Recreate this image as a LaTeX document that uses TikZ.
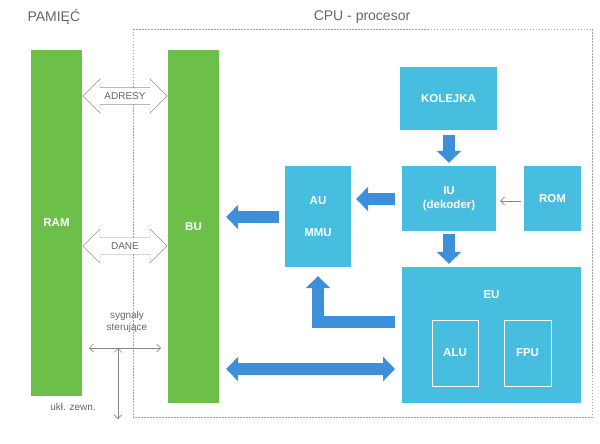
\documentclass[tikz,border=0pt]{standalone}
\usepackage{fontspec}
\setmainfont{Liberation Sans}
\usetikzlibrary{arrows.meta,shapes.arrows}
\definecolor{grn}{HTML}{6CC04A}
\definecolor{box}{HTML}{47BDE0}
\definecolor{arr}{HTML}{3D8FD9}
\definecolor{txt}{HTML}{666666}
\begin{document}
\begin{tikzpicture}[x=1pt,y=-1pt,
  lab/.style={font=\fontsize{11.5}{14}\selectfont\bfseries},
  gbox/.style={fill=grn,inner sep=0,text=white,lab},
  bbox/.style={fill=box,inner sep=0,text=white,lab,align=center},
  ibox/.style={draw=white,line width=0.8pt,inner sep=0,text=white,lab},
  big/.style={draw=arr,line width=12pt,-{Triangle[width=24pt,length=12pt]}},
  bigd/.style={draw=arr,line width=12pt,{Triangle[width=24pt,length=12pt]}-{Triangle[width=24pt,length=12pt]}},
  hollow/.style={draw=txt!70,fill=white,shape=double arrow,double arrow head extend=6pt,minimum height=84pt,minimum width=34pt,inner sep=2pt,font=\fontsize{10}{12}\selectfont,text=txt},
  tip/.style={-{Straight Barb[length=4pt,width=8pt]}},
  thin/.style={draw=txt!80,line width=0.6pt},
  lbl/.style={text=txt,font=\fontsize{10}{12}\selectfont,align=center}]
\useasboundingbox (0,0) rectangle (600,444);
\draw[txt!60,dash pattern=on 1.5pt off 1.5pt,line width=0.8pt] (133,29) rectangle (592,417);
\node[text=txt,font=\fontsize{14}{16}\selectfont,anchor=west] (pam) at (24,17) {PAMIĘĆ};
\node[text=txt,font=\fontsize{14}{16}\selectfont] (cpu) at (362,17) {CPU - procesor};
\node[gbox,minimum width=51pt,minimum height=346pt] (ram) at (56.5,223) {RAM};
\node[gbox,minimum width=51pt,minimum height=353pt] (bu) at (193.5,226.5) {BU};
\node[hollow] (adr) at (125,96) {ADRESY};
\node[hollow] (dane) at (125,246) {DANE};
\node[lbl] (syg) at (127,322) {sygnały\\sterujące};
\coordinate (sl) at (89,348); \coordinate (sr) at (161,348);
\coordinate (vt) at (118,348); \coordinate (vb) at (118,419);
\draw[thin,{Straight Barb[length=4pt,width=8pt]}-{Straight Barb[length=4pt,width=8pt]}] (sl) -- (sr);
\draw[thin,{Straight Barb[length=4pt,width=8pt]}-{Straight Barb[length=4pt,width=8pt]}] (vt) -- (vb);
\node[lbl] (ukl) at (73,407) {ukł. zewn.};
\node[bbox,minimum width=97pt,minimum height=63pt] (kol) at (448.5,98.5) {KOLEJKA};
\node[bbox,minimum width=94pt,minimum height=65pt] (iu) at (449,198.5) {IU\\(dekoder)};
\node[bbox,minimum width=57pt,minimum height=65pt] (rom) at (552.5,198.5) {ROM};
\node[bbox,minimum width=66pt,minimum height=101pt] (au) at (318,216.5) {AU\\[18pt]MMU};
\node[bbox,minimum width=179pt,minimum height=136pt] (eu) at (491.5,335) {};
\node[text=white,lab] (eul) at (491.5,295) {EU};
\node[ibox,minimum width=46pt,minimum height=66pt] (alu) at (455,353) {ALU};
\node[ibox,minimum width=47pt,minimum height=66pt] (fpu) at (527.5,353) {FPU};
\coordinate (k1) at (449,135);
\draw[big] (k1) -- ([yshift=3pt]k1|-iu.north);
\coordinate (i1) at (449,234);
\draw[big] (i1) -- ([yshift=3pt]i1|-eu.north);
\coordinate (i2) at (395,199);
\draw[big] (i2) -- ([xshift=5pt]au.east|-i2);
\coordinate (a2) at (279,217);
\draw[big] (a2) -- ([xshift=7pt]bu.east|-a2);
\coordinate (r1) at (521,201);
\draw[thin,tip] (r1) -- ([xshift=4pt]iu.east|-r1);
\coordinate (e1) at (395,322);
\draw[big] (e1) -| ([yshift=-9pt]au.south);
\coordinate (e2) at (395,369);
\draw[bigd] ([xshift=7pt]bu.east|-e2) -- (e2);
\end{tikzpicture}
\end{document}
